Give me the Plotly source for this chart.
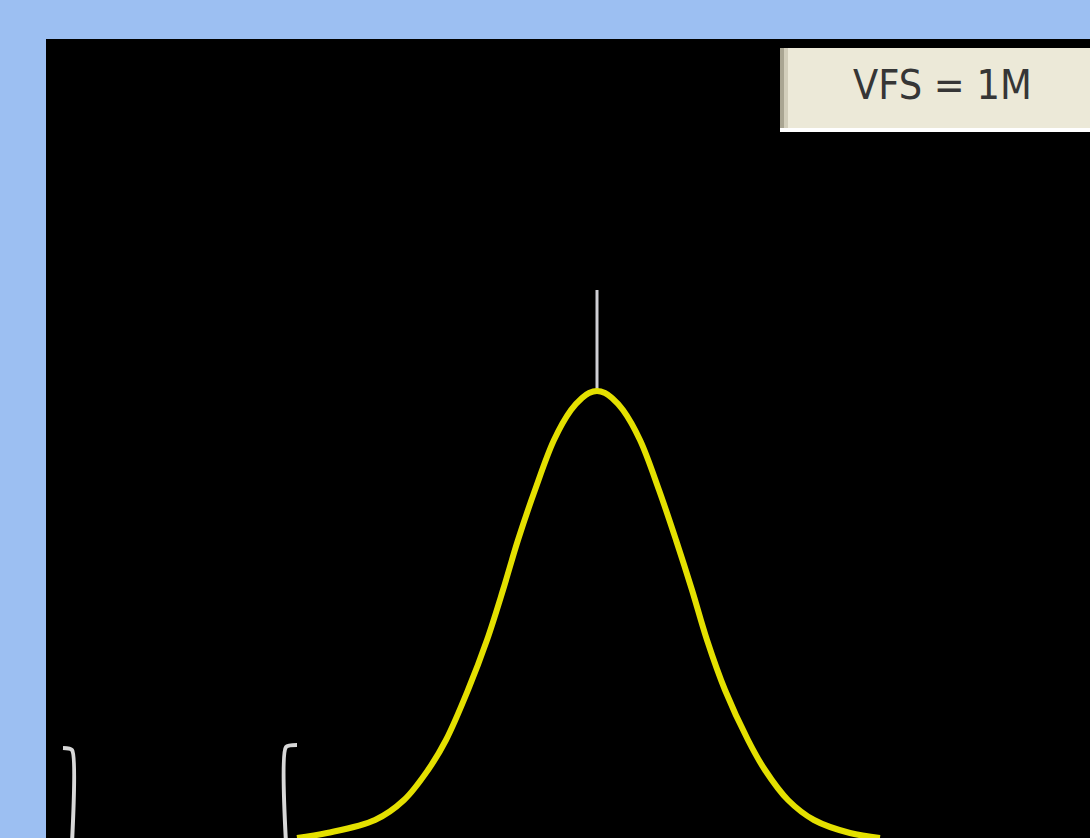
import plotly.graph_objects as go

# Curve (x: horizontal position, y: height above the baseline)
curve_x = [251, 281, 329, 358, 382, 400, 422, 441, 457, 472, 489, 508, 525, 536, 543, 551,
           559, 566, 577, 594, 613, 630, 646, 661, 679, 702, 719, 742, 768, 804, 834]
curve_y = [0, 5, 18, 38, 68, 98, 148, 198, 248, 298, 348, 398, 428, 440, 445, 447,
           445, 440, 428, 398, 348, 298, 248, 198, 148, 98, 68, 38, 18, 5, 0]

# White marker above the peak
peak_x = [551, 551]
peak_y = [449, 548]

# Bracket markers at the bottom left
left_bracket_x = [17, 26, 26]
left_bracket_y = [90, 88, -5]
right_bracket_x = [251, 240, 240]
right_bracket_y = [93, 91, -5]

label_text = "VFS = 1M"

fig = go.Figure()

fig.add_trace(go.Scatter(x=peak_x, y=peak_y, mode="lines",
                         line=dict(color="#cfcfd4", width=3),
                         hoverinfo="skip", showlegend=False))
fig.add_trace(go.Scatter(x=curve_x, y=curve_y, mode="lines",
                         line=dict(color="#e4e000", width=6, shape="spline", smoothing=1.0),
                         hoverinfo="skip", showlegend=False))
for bx, by in [(left_bracket_x, left_bracket_y), (right_bracket_x, right_bracket_y)]:
    fig.add_trace(go.Scatter(x=bx, y=by, mode="lines",
                             line=dict(color="#d8d8d8", width=4, shape="spline", smoothing=0.6),
                             hoverinfo="skip", showlegend=False))

# Label box
fig.add_shape(type="rect", x0=734, x1=1050, y0=706, y1=790, xref="x", yref="y",
              fillcolor="#ece9d8", line=dict(width=0), layer="above")
fig.add_shape(type="rect", x0=734, x1=738, y0=706, y1=790, xref="x", yref="y",
              fillcolor="#a9a592", line=dict(width=0), layer="above")
fig.add_shape(type="rect", x0=738, x1=742, y0=706, y1=790, xref="x", yref="y",
              fillcolor="#d2cebb", line=dict(width=0), layer="above")
fig.add_shape(type="rect", x0=734, x1=1050, y0=706, y1=710, xref="x", yref="y",
              fillcolor="#ffffff", line=dict(width=0), layer="above")
fig.add_annotation(x=896, y=753, xref="x", yref="y", text=label_text, showarrow=False,
                   font=dict(family="DejaVu Sans Condensed, Liberation Sans Narrow, sans-serif",
                             size=41, color="#363636"),
                   xanchor="center", yanchor="middle")

fig.update_xaxes(range=[0, 1044], visible=False, fixedrange=True)
fig.update_yaxes(range=[0, 799], visible=False, fixedrange=True)
fig.update_layout(width=1090, height=838,
                  margin=dict(l=46, r=0, t=39, b=0),
                  paper_bgcolor="#9cbff2", plot_bgcolor="#000000",
                  showlegend=False)

fig.write_html("out.html", config={"displayModeBar": False})

# remove the default page margin so the figure sits at the window's corner
with open("out.html", "r", encoding="utf-8") as f:
    html = f.read()
html = html.replace("<body>", '<body style="margin:0;padding:0;overflow:hidden">', 1)
with open("out.html", "w", encoding="utf-8") as f:
    f.write(html)
